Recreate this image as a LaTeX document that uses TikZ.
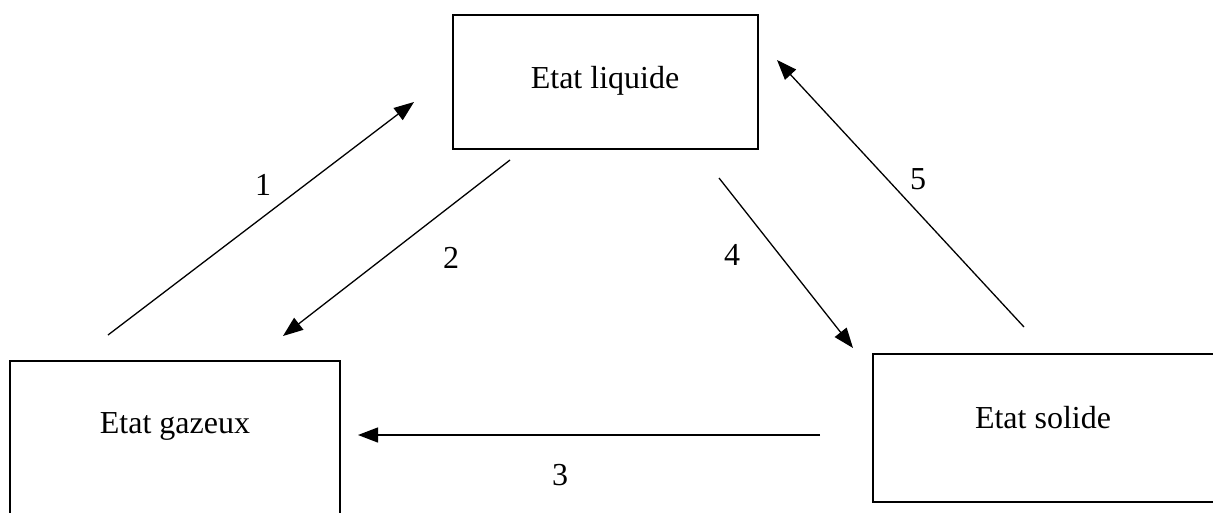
\documentclass[tikz,border=0pt]{standalone}
\usepackage{fontspec}
\setmainfont{Liberation Serif}
\usetikzlibrary{arrows.meta}
\begin{document}
\begin{tikzpicture}[x=1pt,y=-1pt,
  box/.style={draw,line width=1.3pt,inner sep=0pt},
  txt/.style={anchor=base,inner sep=0pt,font=\fontsize{32}{38}\selectfont},
  num/.style={anchor=base,inner sep=0pt,font=\fontsize{32}{38}\selectfont},
  conn/.style={line width=1.3pt,-{Triangle[length=20pt,width=15pt]}}]
\fill[white] (0,0) rectangle (1213,512);
\useasboundingbox (0,0) rectangle (1213,512);
% boxes
\node[box,minimum width=305pt,minimum height=134pt] (liq) at (605.5,82) {};
\node[box,minimum width=330pt,minimum height=169pt] (gaz) at (175,445.5) {};
\node[box,minimum width=343pt,minimum height=148pt] (sol) at (1044.5,428) {};
\node[txt] (liqt) at (605,88) {Etat liquide};
\node[txt] (gazt) at (175,433) {Etat gazeux};
\node[txt] (solt) at (1043,428) {Etat solide};
% connector end points
\coordinate (a1) at (108,335); \coordinate (b1) at (414,102);
\coordinate (a2) at (510,160); \coordinate (b2) at (283,336);
\coordinate (a3) at (820,435); \coordinate (b3) at (358,435);
\coordinate (a4) at (719,178); \coordinate (b4) at (853,348);
\coordinate (a5) at (1024,327); \coordinate (b5) at (777,60);
\draw[conn] (a1) -- (b1);
\draw[conn] (a2) -- (b2);
\draw[conn] (a3) -- (b3);
\draw[conn] (a4) -- (b4);
\draw[conn] (a5) -- (b5);
% labels
\node[num] (n1) at (263,195) {1};
\node[num] (n2) at (451,268) {2};
\node[num] (n3) at (560,485) {3};
\node[num] (n4) at (732,265) {4};
\node[num] (n5) at (918,189) {5};
\end{tikzpicture}
\end{document}
